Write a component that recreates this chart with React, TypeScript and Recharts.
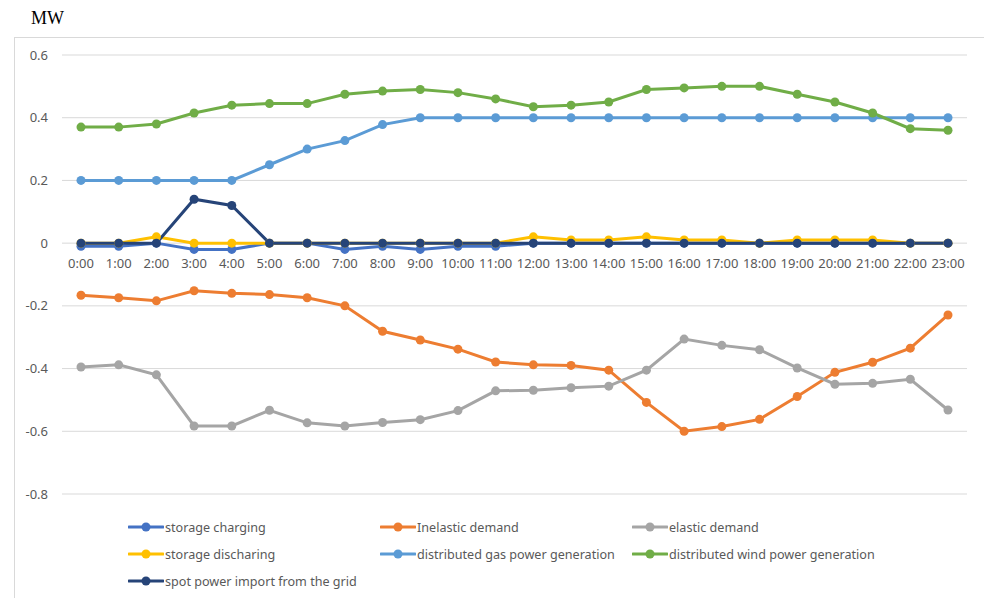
import React from 'react';
import { LineChart, Line, XAxis, YAxis, CartesianGrid } from 'recharts';

// hourly balance of a micro-grid, MW
const hours = [
  '0:00', '1:00', '2:00', '3:00', '4:00', '5:00', '6:00', '7:00', '8:00', '9:00', '10:00', '11:00',
  '12:00', '13:00', '14:00', '15:00', '16:00', '17:00', '18:00', '19:00', '20:00', '21:00', '22:00', '23:00',
];

const storageCharging = [
  -0.01, -0.01, 0, -0.02, -0.02, 0, 0, -0.02, -0.01, -0.02, -0.01, -0.01,
  0, 0, 0, 0, 0, 0, 0, 0, 0, 0, 0, 0,
];
const inelasticDemand = [
  -0.166, -0.174, -0.184, -0.152, -0.16, -0.164, -0.174, -0.2, -0.281, -0.309, -0.338, -0.379,
  -0.388, -0.39, -0.405, -0.508, -0.6, -0.585, -0.562, -0.489, -0.412, -0.38, -0.335, -0.229,
];
const elasticDemand = [
  -0.395, -0.388, -0.42, -0.583, -0.583, -0.533, -0.573, -0.583, -0.572, -0.563, -0.534, -0.471,
  -0.469, -0.461, -0.456, -0.405, -0.306, -0.326, -0.34, -0.398, -0.45, -0.447, -0.434, -0.532,
];
const storageDischarging = [
  0, 0, 0.02, 0, 0, 0, 0, 0, 0, 0, 0, 0,
  0.02, 0.01, 0.01, 0.02, 0.01, 0.01, 0, 0.01, 0.01, 0.01, 0, 0,
];
const gasGeneration = [
  0.2, 0.2, 0.2, 0.2, 0.2, 0.25, 0.3, 0.327, 0.378, 0.4, 0.4, 0.4,
  0.4, 0.4, 0.4, 0.4, 0.4, 0.4, 0.4, 0.4, 0.4, 0.4, 0.4, 0.4,
];
const windGeneration = [
  0.37, 0.37, 0.38, 0.415, 0.44, 0.445, 0.445, 0.475, 0.485, 0.49, 0.48, 0.46,
  0.435, 0.44, 0.45, 0.49, 0.495, 0.5, 0.5, 0.475, 0.45, 0.415, 0.365, 0.36,
];
const gridImport = [
  0, 0, 0, 0.14, 0.12, 0, 0, 0, 0, 0, 0, 0,
  0, 0, 0, 0, 0, 0, 0, 0, 0, 0, 0, 0,
];

const yTicks = [0.6, 0.4, 0.2, 0, -0.2, -0.4, -0.6, -0.8];

const series = [
  { key: 'charging', name: 'storage charging', color: '#4472C4', values: storageCharging },
  { key: 'inelastic', name: 'Inelastic demand', color: '#ED7D31', values: inelasticDemand },
  { key: 'elastic', name: 'elastic demand', color: '#A5A5A5', values: elasticDemand },
  { key: 'discharging', name: 'storage discharing', color: '#FFC000', values: storageDischarging },
  { key: 'gas', name: 'distributed gas power generation', color: '#5B9BD5', values: gasGeneration },
  { key: 'wind', name: 'distributed wind power generation', color: '#70AD47', values: windGeneration },
  { key: 'grid', name: 'spot power import from the grid', color: '#264478', values: gridImport },
];

const data = hours.map((hour, i) => {
  const row: any = { hour };
  series.forEach((s) => { row[s.key] = s.values[i]; });
  return row;
});

const W = 984;
const H = 598;
const X_AXIS_H = 20;
const margin = { top: 55, right: 17, bottom: 84, left: 18 };
const Y_MIN = -0.8;
const Y_MAX = 0.6;
const plotH = H - margin.top - margin.bottom - X_AXIS_H;
// hour labels sit just under the zero line, not at the bottom of the plot
const zeroY = margin.top + ((Y_MAX - 0) / (Y_MAX - Y_MIN)) * plotH;

const FONT = '"Noto Sans", sans-serif';
const TEXT = '#595959';

const HourTick = (props: any) => {
  const { x, payload } = props;
  return (
    <text x={x} y={zeroY + 20} textAnchor="middle" dominantBaseline="central" fill={TEXT} fontSize={13} fontFamily={FONT}>
      {payload.value}
    </text>
  );
};

function LegendBox() {
  const cols = [128, 380, 632];
  const rows = [527, 554, 581];
  return (
    <>
      {series.map((s, i) => (
        <div
          key={s.key}
          style={{
            position: 'absolute',
            left: cols[i % 3],
            top: rows[Math.floor(i / 3)] - 10,
            height: 20,
            display: 'flex',
            alignItems: 'center',
            fontFamily: FONT,
            fontSize: 12.6,
            color: TEXT,
            whiteSpace: 'nowrap',
          }}
        >
          <svg width={36} height={12} style={{ marginRight: 1 }}>
            <line x1={1} y1={6} x2={35} y2={6} stroke={s.color} strokeWidth={3} strokeLinecap="round" />
            <circle cx={18} cy={6} r={4.5} fill={s.color} />
          </svg>
          {s.name}
        </div>
      ))}
    </>
  );
}

export default function App() {
  return (
    <div style={{ position: 'absolute', left: 0, top: 0, width: W, height: H, background: '#fff', overflow: 'hidden' }}>
      <div
        style={{
          position: 'absolute', left: 14, top: 37, width: W, height: H,
          borderTop: '1px solid #d9d9d9', borderLeft: '1px solid #d9d9d9',
        }}
      />
      <svg width={120} height={34} style={{ position: 'absolute', left: 0, top: 0 }}>
        <text x={31} y={24} fontFamily='"Liberation Serif", serif' fontSize={18} fill="#000">MW</text>
      </svg>
      <div style={{ position: 'absolute', left: 0, top: 0 }}>
        <LineChart width={W} height={H} data={data} margin={margin}>
          <CartesianGrid vertical={false} stroke="#d9d9d9" strokeWidth={1} />
          <XAxis
            dataKey="hour"
            height={X_AXIS_H}
            interval={0}
            axisLine={false}
            tickLine={false}
            padding={{ left: 19, right: 19 }}
            tick={HourTick}
          />
          <YAxis
            width={44}
            domain={[Y_MIN, Y_MAX]}
            ticks={yTicks}
            axisLine={false}
            tickLine={false}
            tickSize={0}
            tickMargin={14}
            tickFormatter={(v: number) => (v === 0 ? '0' : String(v))}
            tick={{ fill: TEXT, fontSize: 13, fontFamily: FONT }}
          />
          {series.map((s) => (
            <Line
              key={s.key}
              dataKey={s.key}
              name={s.name}
              type="linear"
              stroke={s.color}
              strokeWidth={3}
              dot={{ r: 4.5, fill: s.color, stroke: s.color, strokeWidth: 0 }}
              activeDot={false}
              isAnimationActive={false}
            />
          ))}
        </LineChart>
      </div>
      <LegendBox />
    </div>
  );
}
